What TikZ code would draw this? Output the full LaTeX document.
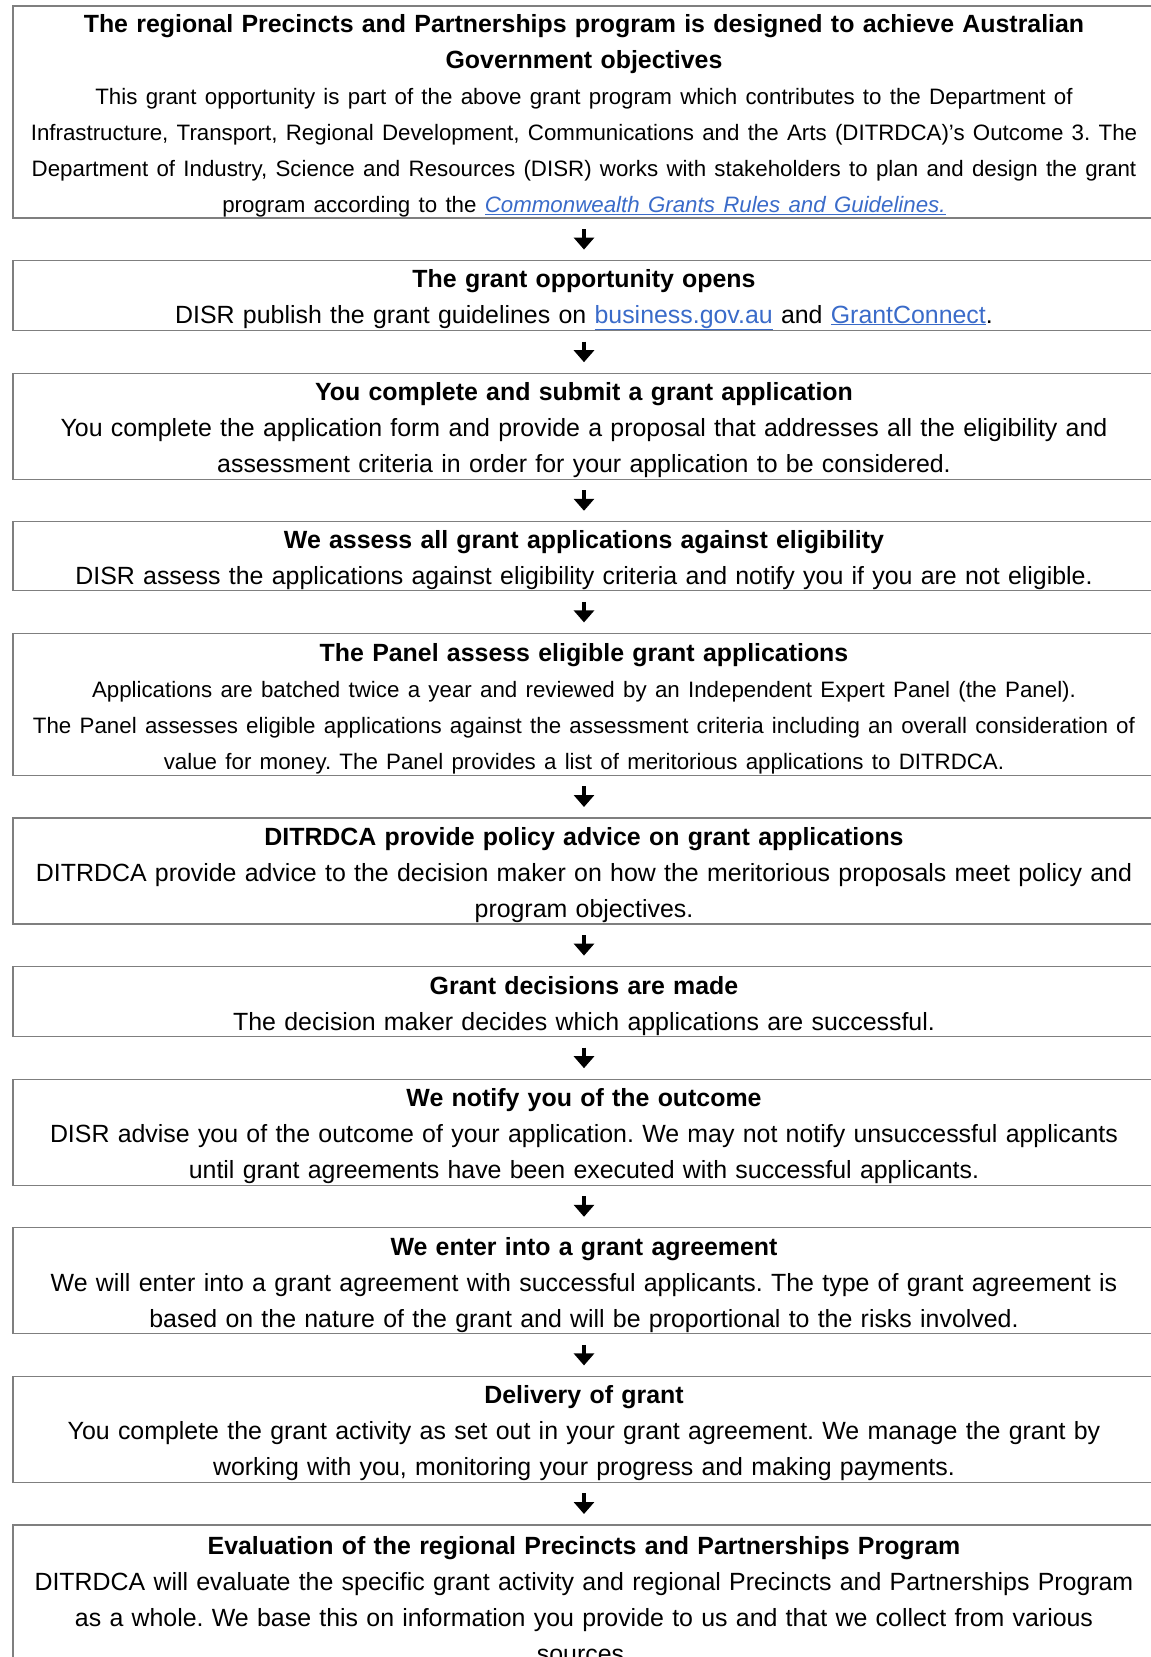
\documentclass[tikz,border=0pt]{standalone}
\usepackage{fontspec}
\setmainfont{Liberation Sans}
\usepackage{tikz}
\usetikzlibrary{arrows.meta, positioning}

\definecolor{boxgray}{HTML}{7F7F7F}
\definecolor{linkblue}{HTML}{3A6BC9}
\newcommand{\heading}[1]{\rule{0pt}{26pt}\textbf{#1}}
\newcommand{\weblink}[1]{\textcolor{linkblue}{\underline{#1}}}
\newcommand{\smallbody}{\fontsize{22.3}{36}\selectfont}
\frenchspacing

\tikzset{
    stepbox/.style={rectangle, draw=boxgray, line width=1.2pt, inner sep=0pt,
        outer sep=0pt, text width=1142pt, align=center, minimum height=#1,
        font=\fontsize{24.9}{36}\selectfont},
    flowarrow/.style={line width=4.5pt, shorten >=11pt, shorten <=11pt,
        -{Triangle[width=20pt, length=12pt]}}
}

\begin{document}
\begin{tikzpicture}[node distance=42.6pt]
    \useasboundingbox (0,0) rectangle (1151pt,-1657pt);
    \clip (0,0) rectangle (1151pt,-1657pt);

    % Nodes representing the steps of the grant process
    \node (objectives) [stepbox=212pt, anchor=north] at (584pt,-6pt) {\heading{The regional Precincts and Partnerships program is designed to achieve Australian\\ Government objectives}\\ {\smallbody This grant opportunity is part of the above grant program which contributes to the Department of}\\ {\smallbody Infrastructure, Transport, Regional Development, Communications and the Arts (DITRDCA)'s Outcome 3. The}\\ {\smallbody Department of Industry, Science and Resources (DISR) works with stakeholders to plan and design the grant}\\ {\smallbody program according to the \weblink{\textit{Commonwealth Grants Rules and Guidelines.}}}};
    \node (opens) [stepbox=70pt, below=of objectives] {\heading{The grant opportunity opens}\\ DISR publish the grant guidelines on \weblink{business.gov.au} and \weblink{GrantConnect}.};
    \node (apply) [stepbox=106pt, below=of opens] {\heading{You complete and submit a grant application}\\ You complete the application form and provide a proposal that addresses all the eligibility and\\ assessment criteria in order for your application to be considered.};
    \node (eligible) [stepbox=69pt, below=of apply] {\heading{We assess all grant applications against eligibility}\\ DISR assess the applications against eligibility criteria and notify you if you are not eligible.};
    \node (panel) [stepbox=142pt, below=of eligible] {\heading{The Panel assess eligible grant applications}\\ {\smallbody Applications are batched twice a year and reviewed by an Independent Expert Panel (the Panel).}\\ {\smallbody The Panel assesses eligible applications against the assessment criteria including an overall consideration of}\\ {\smallbody value for money. The Panel provides a list of meritorious applications to DITRDCA.}};
    \node (advice) [stepbox=106pt, below=of panel] {\heading{DITRDCA provide policy advice on grant applications}\\ DITRDCA provide advice to the decision maker on how the meritorious proposals meet policy and\\ program objectives.};
    \node (decision) [stepbox=70pt, below=of advice] {\heading{Grant decisions are made}\\ The decision maker decides which applications are successful.};
    \node (notify) [stepbox=106pt, below=of decision] {\heading{We notify you of the outcome}\\ DISR advise you of the outcome of your application. We may not notify unsuccessful applicants\\ until grant agreements have been executed with successful applicants.};
    \node (agreement) [stepbox=106pt, below=of notify] {\heading{We enter into a grant agreement}\\ We will enter into a grant agreement with successful applicants. The type of grant agreement is\\ based on the nature of the grant and will be proportional to the risks involved.};
    \node (delivery) [stepbox=106pt, below=of agreement] {\heading{Delivery of grant}\\ You complete the grant activity as set out in your grant agreement. We manage the grant by\\ working with you, monitoring your progress and making payments.};
    \node (evaluation) [stepbox=142pt, below=of delivery] {\heading{Evaluation of the regional Precincts and Partnerships Program}\\ DITRDCA will evaluate the specific grant activity and regional Precincts and Partnerships Program\\ as a whole. We base this on information you provide to us and that we collect from various\\ sources.};

    % Arrows between the steps
    \draw[flowarrow] (objectives) -- (opens);
    \draw[flowarrow] (opens) -- (apply);
    \draw[flowarrow] (apply) -- (eligible);
    \draw[flowarrow] (eligible) -- (panel);
    \draw[flowarrow] (panel) -- (advice);
    \draw[flowarrow] (advice) -- (decision);
    \draw[flowarrow] (decision) -- (notify);
    \draw[flowarrow] (notify) -- (agreement);
    \draw[flowarrow] (agreement) -- (delivery);
    \draw[flowarrow] (delivery) -- (evaluation);
\end{tikzpicture}
\end{document}
